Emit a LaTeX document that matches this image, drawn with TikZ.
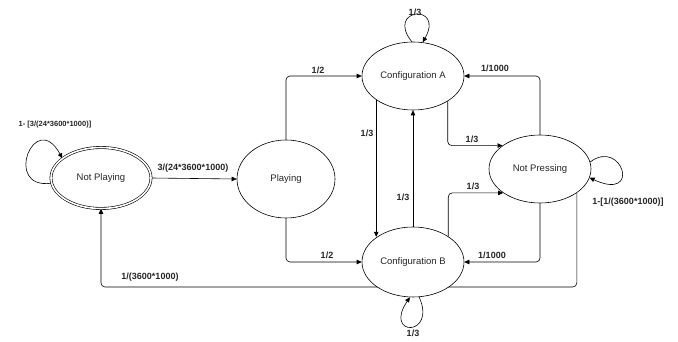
\documentclass[tikz,border=0pt]{standalone}
\usepackage{fontspec}
\setmainfont{Liberation Sans}
\usetikzlibrary{arrows.meta,calc,shapes.geometric}
\pgfdeclarelayer{edges}
\pgfsetlayers{edges,main}
\begin{document}
\begin{tikzpicture}[x=1pt,y=-1pt,
  state/.style={ellipse,draw,fill=white,line width=0.6pt,inner sep=0pt,font=\fontsize{9.5}{11}\selectfont,text=black!85},
  arr/.style={-{Triangle[length=5pt,width=4.5pt]},line width=0.6pt,rounded corners=4pt},
  lbl/.style={font=\bfseries\fontsize{9}{10}\selectfont,inner sep=0pt,text=black!85},
  lblsm/.style={font=\bfseries\fontsize{7.5}{9}\selectfont,inner sep=0pt,text=black!85}]
\useasboundingbox (0,0) rectangle (678,342);
\node[state,double,double distance=1.6pt,minimum width=100pt,minimum height=61pt] (np) at (101,178) {Not Playing};
\node[state,minimum width=98pt,minimum height=78pt] (pl) at (286,179) {Playing};
\node[state,minimum width=102pt,minimum height=68pt] (ca) at (413,76) {Configuration A};
\node[state,minimum width=102pt,minimum height=70pt] (cb) at (413,262) {Configuration B};
\node[state,minimum width=102pt,minimum height=68pt] (nps) at (540,169) {Not Pressing};
\coordinate (bot) at (0,287);
\begin{pgfonlayer}{edges}
\draw[arr] (np.east) -- (pl.west);
\draw[arr] (pl.north) |- (ca.west);
\draw[arr] (pl.south) |- (cb.west);
\draw[arr] (ca.213.8) -- (ca.213.8 |- cb.145.4);
\draw[arr] (cb.north) -- (ca.south);
\draw[arr] (ca.324.8) |- (nps.148.5);
\draw[arr] (cb.36.1) |- (nps.213.6);
\draw[arr] (nps.north) |- (ca.east);
\draw[arr] (nps.south) |- (cb.east);
\draw[arr] (nps.327.7) |- (np.south |- bot) -- (np.south);
\draw[arr] (np.186) .. controls (2,190) and (35,108) .. (np.153);
\draw[arr] (ca.92) .. controls (385,8) and (445,3) .. (ca.74);
\draw[arr] (cb.280) .. controls (437,337) and (383,337) .. (cb.265);
\draw[arr] (nps.8) .. controls (622,138) and (642,202) .. (nps.350);
\end{pgfonlayer}
\node[lblsm] (l1) at (55,125) {1- [3/(24*3600*1000)]};
\node[lbl] (l2) at (193,168) {3/(24*3600*1000)};
\node[lbl] (l3) at (318,70) {1/2};
\node[lbl] (l4) at (327,255) {1/2};
\node[lbl] (l5) at (415,12) {1/3};
\node[lbl] (l6) at (367,133) {1/3};
\node[lbl] (l7) at (403,197) {1/3};
\node[lbl] (l8) at (495,68) {1/1000};
\node[lbl] (l9) at (472,139) {1/3};
\node[lbl] (l10) at (473,186) {1/3};
\node[lbl] (l11) at (492,255) {1/1000};
\node[lbl] (l12) at (628,202) {1-[1/(3600*1000)]};
\node[lbl] (l13) at (150,277) {1/(3600*1000)};
\node[lbl] (l14) at (413,333) {1/3};
\end{tikzpicture}
\end{document}
